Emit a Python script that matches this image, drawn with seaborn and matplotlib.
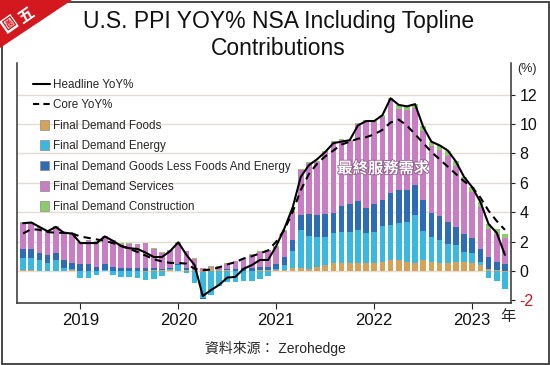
import numpy as np
import pandas as pd
import matplotlib
matplotlib.use("Agg")
import matplotlib.pyplot as plt
import seaborn as sns
from matplotlib.lines import Line2D
from matplotlib.patches import Patch, Rectangle, Polygon
from matplotlib.legend_handler import HandlerPatch
import matplotlib.patheffects as pe

# ---------------- data ----------------
months = pd.date_range("2018-06-01", "2023-05-01", freq="MS")

headline = [3.25, 3.3, 3.0, 2.7, 3.0, 2.6, 2.55,
            1.9, 1.9, 1.9, 2.35, 2.05, 1.7, 1.55, 1.5, 1.25, 0.95, 0.95, 1.35,
            1.95, 1.1, 0.4, -1.7, -1.3, -0.95, -0.45, -0.4, 0.15, 0.4, 0.75, 0.75,
            1.7, 2.9, 4.3, 6.4, 7.2, 7.6, 8.1, 8.7, 8.8, 8.9, 9.9, 10.2,
            10.2, 10.6, 11.75, 11.3, 11.2, 11.35, 9.8, 8.8, 8.55, 8.2, 7.45, 6.4,
            5.7, 4.7, 3.2, 2.6, 1.1]

core = [2.55, 2.85, 2.8, 2.65, 2.6, 2.6, 2.55,
        2.35, 2.25, 2.15, 2.05, 1.9, 1.7, 1.5, 1.3, 1.05, 0.8, 0.65, 0.55,
        0.55, 0.5, 0.15, 0.05, 0.1, 0.25, 0.45, 0.6, 0.85, 1.0, 1.2, 1.4,
        2.0, 2.8, 4.0, 5.5, 6.6, 7.3, 7.8, 8.2, 8.6, 8.8, 9.0, 9.1,
        9.3, 9.6, 10.1, 10.3, 9.9, 9.3, 8.7, 8.1, 7.6, 7.1, 6.6, 6.1,
        5.7, 5.0, 4.1, 3.4, 2.8]

foods = [0.05, 0.05, 0.0, -0.02, 0.0, 0.02, 0.05,
         0.02, 0.02, 0.0, 0.0, 0.0, 0.0, 0.0, -0.03, -0.05, 0.05, 0.05, 0.05,
         0.0, 0.05, 0.05, -0.1, 0.2, 0.1, 0.05, 0.0, 0.0, 0.03, 0.05, 0.05,
         0.05, 0.1, 0.23, 0.23, 0.15, 0.3, 0.4, 0.57, 0.57, 0.57, 0.57, 0.57,
         0.57, 0.63, 0.75, 0.75, 0.64, 0.57, 0.75, 0.64, 0.57, 0.57, 0.64, 0.64,
         0.52, 0.4, 0.15, 0.05, -0.05]

energy = [0.86, 0.86, 0.75, 0.55, 0.75, 0.2, 0.1,
          -0.5, -0.5, -0.27, 0.05, -0.27, -0.43, -0.43, -0.43, -0.57, -0.57, -0.34, 0.1,
          0.4, -0.16, -0.85, -1.75, -1.6, -1.0, -0.75, -0.75, -0.7, -0.65, -0.55, -0.35,
          0.1, 0.3, 1.15, 2.55, 2.2, 2.0, 1.9, 2.0, 2.1, 2.1, 2.2, 2.0,
          2.1, 2.4, 2.4, 2.5, 2.7, 3.25, 1.95, 1.7, 1.55, 1.3, 1.13, 0.68,
          0.68, 0.23, -0.45, -0.65, -1.2]

goods = [0.57, 0.57, 0.5, 0.55, 0.45, 0.55, 0.4,
         0.48, 0.48, 0.3, 0.4, 0.25, 0.2, 0.2, 0.18, 0.18, 0.18, 0.07, 0.05,
         0.05, 0.18, 0.05, -0.05, -0.05, 0.0, 0.1, 0.15, 0.18, 0.18, 0.2, 0.25,
         0.35, 0.55, 0.73, 1.0, 1.5, 1.5, 1.6, 1.4, 1.75, 1.9, 2.0, 1.7,
         1.9, 1.8, 2.15, 2.25, 2.2, 2.05, 2.15, 1.63, 1.6, 1.47, 1.25, 1.2,
         1.02, 0.9, 0.8, 0.55, 0.5]

services = [1.8, 1.85, 1.72, 1.63, 1.8, 1.8, 2.0,
            1.4, 1.6, 1.7, 1.9, 1.85, 1.65, 1.65, 1.65, 1.7, 1.3, 1.1, 1.2,
            1.45, 1.1, 0.75, 0.18, 0.1, 0.2, 0.35, 0.5, 0.7, 0.9, 1.05, 1.1,
            1.15, 1.8, 1.9, 3.1, 3.5, 3.6, 4.2, 4.8, 4.5, 4.3, 5.25, 5.9,
            5.55, 5.65, 6.3, 5.55, 5.4, 5.2, 4.65, 4.5, 4.5, 4.5, 4.1, 3.67,
            3.17, 2.83, 1.9, 1.95, 1.75]

construction = [0.03, 0.03, 0.03, 0.03, 0.03, 0.03, 0.04,
                0.04, 0.04, 0.04, 0.04, 0.04, 0.04, 0.04, 0.04, 0.04, 0.04, 0.04, 0.04,
                0.04, 0.04, 0.03, 0.03, 0.03, 0.03, 0.03, 0.03, 0.03, 0.03, 0.03, 0.03,
                0.03, 0.03, 0.04, 0.05, 0.05, 0.05, 0.06, 0.06, 0.06, 0.07, 0.08, 0.08,
                0.1, 0.12, 0.15, 0.23, 0.27, 0.3, 0.34, 0.3, 0.34, 0.34, 0.34, 0.23,
                0.34, 0.34, 0.34, 0.3, 0.3]

series_labels = ["Final Demand Foods", "Final Demand Energy",
                 "Final Demand Goods Less Foods And Energy",
                 "Final Demand Services", "Final Demand Construction"]
line_labels = ["Headline YoY%", "Core YoY%"]
year_labels = ["2019", "2020", "2021", "2022", "2023"]
y_ticks = [-2, 0, 2, 4, 6, 8, 10, 12]

colors = ["#D5A257", "#3BB8E0", "#2F6CB6", "#C97EC4", "#8ECB6C"]

# ---------------- style ----------------
sns.set_style("white")
plt.rcParams["font.family"] = ["Liberation Sans", "Noto Sans CJK TC", "DejaVu Sans"]

leg_size, leg_spacing = 8.4, 0.72

fig = plt.figure(figsize=(5.5, 3.65), dpi=100)
W, H = 550, 365
ax = fig.add_axes([17 / W, (H - 303) / H, (511 - 17) / W, (303 - 63) / H])

mi = (months.year - 2019) * 12 + (months.month - 1)
n = len(mi)

pos = np.zeros(n)
neg = np.zeros(n)
for label, vals, col in zip(series_labels,
                            [foods, energy, goods, services, construction], colors):
    v = np.asarray(vals, dtype=float)
    bottom = np.where(v >= 0, pos, neg)
    df = pd.DataFrame({"x": mi, "h": v})
    sns.barplot(data=df, x="x", y="h", native_scale=True, width=0.7,
                color=col, saturation=1, errorbar=None, bottom=bottom,
                edgecolor="none", linewidth=0, ax=ax, zorder=2)
    pos += np.where(v >= 0, v, 0)
    neg += np.where(v < 0, v, 0)

sns.lineplot(x=mi, y=headline, color="black", linewidth=1.5, ax=ax, zorder=4)
sns.lineplot(x=mi, y=core, color="black", linewidth=1.5, linestyle=(0, (3.5, 2.5)),
             ax=ax, zorder=4)

# gridlines
for v in y_ticks[1:]:
    ax.axhline(v, color="#E2DDD3", lw=1.0, zorder=0)

ax.set_xlim(-7.75, 52.75)
ax.set_ylim((271 - 303) / 14.7, (271 - 63) / 14.7)
ax.set_xlabel("")
ax.set_ylabel("")

ax.set_xticks([(int(y) - 2019) * 12 for y in year_labels])
ax.set_xticklabels(year_labels)
ax.yaxis.tick_right()
ax.set_yticks(y_ticks)
ax.set_yticklabels([str(t) for t in y_ticks])
ax.tick_params(axis="y", direction="out", length=3, pad=3, labelsize=11.5,
               right=True, left=False, color="#222", labelcolor="#111")
ax.tick_params(axis="x", direction="out", length=4, pad=3, labelsize=12,
               bottom=True, color="#222", labelcolor="#111")
ax.get_yticklabels()[0].set_color("#C8161D")
for s in ["left", "bottom", "right"]:
    ax.spines[s].set_visible(True)
    ax.spines[s].set_color("#333333")
    ax.spines[s].set_linewidth(1.1)
ax.spines["top"].set_visible(False)

# legend
class SquareHandler(HandlerPatch):
    def create_artists(self, legend, orig_handle, xdescent, ydescent, width,
                       height, fontsize, trans):
        s = 7.0
        p = Rectangle((-xdescent + width - s - 0.6, -ydescent + (height - s) / 2),
                      s, s, facecolor=orig_handle.get_facecolor(),
                      edgecolor="#8a8a8a", lw=0.5, transform=trans)
        return [p]

hl = 12.3 / leg_size
handles = [Line2D([], [], color="black", lw=1.5),
           Line2D([], [], color="black", lw=1.5, linestyle=(0, (3, 2)))]
handles += [Patch(facecolor=c) for c in colors]
labels = line_labels + series_labels
leg = fig.legend(handles, labels, loc="upper left",
                 bbox_to_anchor=(33 / W, 1 - 79 / H), frameon=False,
                 prop={"family": "Liberation Sans", "size": leg_size},
                 handlelength=hl, handletextpad=2.2 / leg_size,
                 labelspacing=leg_spacing, borderpad=0, borderaxespad=0,
                 handler_map={Patch: SquareHandler()})

# annotation
ax.text(37.1, 7.0, "最終服務需求", color="white", fontsize=11, fontweight="bold",
        family=["Noto Sans CJK TC"], ha="center", va="center", zorder=5,
        path_effects=[pe.withStroke(linewidth=1.2, foreground="#8d5a8a")])

# texts
fig.text(0.506, 1 - 10 / H, "U.S. PPI YOY% NSA Including Topline\nContributions",
         ha="center", va="top", fontsize=16.5, linespacing=1.2, color="#111")
fig.text(527 / W, 1 - 69 / H, "(%)", ha="center", va="center", fontsize=9)
fig.text(508 / W, 1 - 317 / H, "年", ha="center", va="center", fontsize=11,
         family=["Noto Sans CJK TC"])
fig.text(275 / W, 1 - 348 / H, "資料來源： Zerohedge", ha="center", va="center",
         fontsize=10, family=["Liberation Sans", "Noto Sans CJK TC"])

# border and badge
fig.add_artist(Rectangle((1.5 / W, 1.5 / H), 1 - 3 / W, 1 - 3 / H,
                         transform=fig.transFigure, fill=False, ec="#3a3a3a", lw=1.3))
fig.add_artist(Polygon([(0, 1), (72 / W, 1), (0, 1 - 48 / H)], closed=True,
                       transform=fig.transFigure, fc="#D3181F", ec="none"))
fig.text(9 / W, 1 - 24 / H, "圖", rotation=35, color="#D3181F", fontsize=8.5,
         fontweight="bold", family=["Noto Sans CJK TC"], ha="center", va="center",
         bbox=dict(boxstyle="square,pad=0.08", fc="white", ec="none"))
fig.text(25 / W, 1 - 15 / H, "五", rotation=35, color="white", fontsize=11.5,
         fontweight="bold", family=["Noto Sans CJK TC"], ha="center", va="center")

fig.savefig("out.png", dpi=100)
